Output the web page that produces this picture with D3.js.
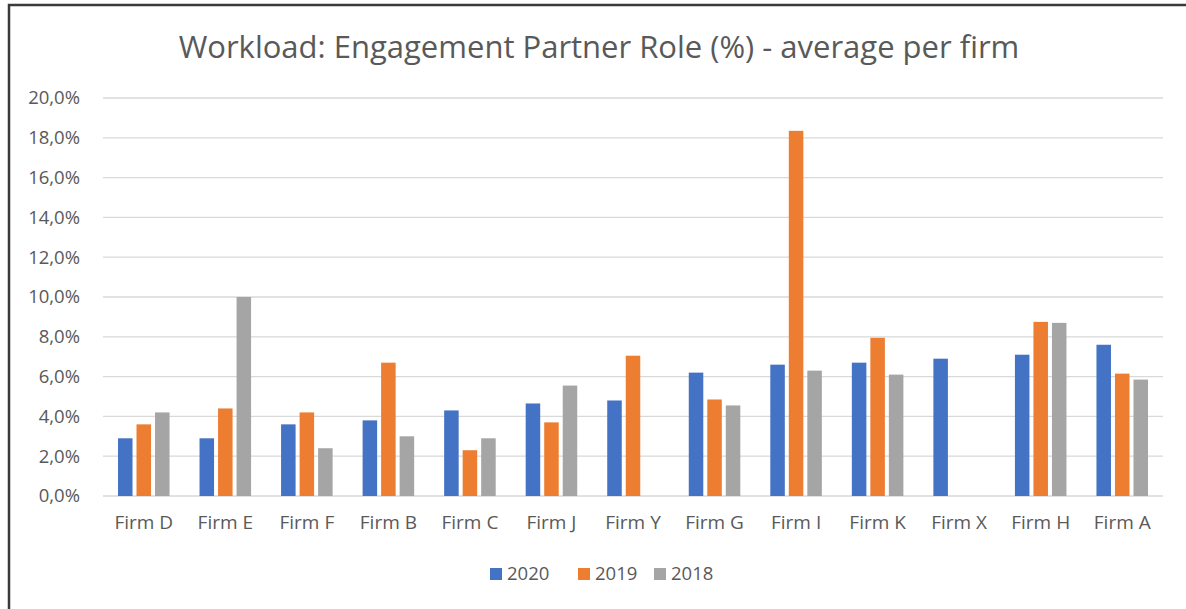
<!DOCTYPE html>
<html>
<head>
<meta charset="utf-8">
<script src="https://cdn.jsdelivr.net/npm/d3@7"></script>
<style>
  html, body { margin: 0; padding: 0; background: #fff; }
  svg { display: block; }
</style>
</head>
<body>
<div id="chart"></div>
<script>
// values in percent, null = no bar
const firms = ['Firm D', 'Firm E', 'Firm F', 'Firm B', 'Firm C', 'Firm J', 'Firm Y', 'Firm G', 'Firm I', 'Firm K', 'Firm X', 'Firm H', 'Firm A'];
const years = ['2020', '2019', '2018'];
const values2020 = [2.9, 2.9, 3.6, 3.8, 4.3, 4.65, 4.8, 6.2, 6.6, 6.7, 6.9, 7.1, 7.6];
const values2019 = [3.6, 4.4, 4.2, 6.7, 2.3, 3.7, 7.05, 4.85, 18.35, 7.95, null, 8.75, 6.15];
const values2018 = [4.2, 10.0, 2.4, 3.0, 2.9, 5.55, null, 4.55, 6.3, 6.1, null, 8.7, 5.85];
const yTickValues = [0, 2, 4, 6, 8, 10, 12, 14, 16, 18, 20];
const title = 'Workload: Engagement Partner Role (%) - average per firm';

const colors = { '2020': '#4472C4', '2019': '#ED7D31', '2018': '#A5A5A5' };
const seriesByYear = { '2020': values2020, '2019': values2019, '2018': values2018 };

const width = 1186, height = 609;
const margin = { top: 98, right: 23, bottom: 113, left: 103 };
const innerW = width - margin.left - margin.right;
const innerH = height - margin.top - margin.bottom;
const font = '"Open Sans", "Noto Sans", sans-serif';
const textColor = '#595959';

const svg = d3.select('#chart').append('svg')
    .attr('width', width)
    .attr('height', height);

// outer frame (runs off the right and bottom edge)
svg.append('rect')
    .attr('x', 9).attr('y', 5)
    .attr('width', 1300).attr('height', 800)
    .attr('fill', '#fff')
    .attr('stroke', '#3a3a3a')
    .attr('stroke-width', 2.5);

svg.append('text')
    .attr('x', 599)
    .attr('y', 58)
    .attr('text-anchor', 'middle')
    .attr('font-family', font)
    .attr('font-size', 31)
    .attr('fill', textColor)
    .text(title);

const g = svg.append('g')
    .attr('transform', `translate(${margin.left},${margin.top})`);

const x = d3.scaleBand()
    .domain(firms)
    .range([0, innerW])
    .paddingInner(0)
    .paddingOuter(0);

const xs = d3.scaleBand()
    .domain(years)
    .range([0, x.bandwidth()])
    .paddingInner(0.216)
    .paddingOuter(0.81);

const y = d3.scaleLinear()
    .domain([0, 20])
    .range([innerH, 0]);

// gridlines
g.append('g')
    .selectAll('line')
    .data(yTickValues)
    .join('line')
    .attr('x1', 0).attr('x2', innerW)
    .attr('y1', d => y(d)).attr('y2', d => y(d))
    .attr('stroke', '#d9d9d9')
    .attr('stroke-width', 1.3);

// y axis labels
const yAxis = g.append('g')
    .call(d3.axisLeft(y).tickValues(yTickValues).tickSize(0).tickPadding(23)
        .tickFormat(d => d.toFixed(1).replace('.', ',') + '%'));
yAxis.select('.domain').remove();
yAxis.selectAll('text')
    .attr('font-family', font)
    .attr('font-size', 18.5)
    .attr('fill', textColor);

// x axis labels
const xAxis = g.append('g')
    .attr('transform', `translate(0,${innerH})`)
    .call(d3.axisBottom(x).tickSize(0).tickPadding(20));
xAxis.select('.domain').remove();
xAxis.selectAll('text')
    .attr('font-family', font)
    .attr('font-size', 19)
    .attr('fill', textColor);

// bars
years.forEach(yr => {
    const vals = seriesByYear[yr];
    g.append('g')
        .selectAll('rect')
        .data(firms.map((f, i) => ({ firm: f, v: vals[i] })).filter(d => d.v != null))
        .join('rect')
        .attr('x', d => x(d.firm) + xs(yr))
        .attr('y', d => y(d.v))
        .attr('width', xs.bandwidth())
        .attr('height', d => innerH - y(d.v))
        .attr('fill', colors[yr]);
});

// legend
const legend = svg.append('g')
    .attr('transform', 'translate(490,574)');
const legendX = [0, 88, 164];
years.forEach((yr, i) => {
    const lg = legend.append('g').attr('transform', `translate(${legendX[i]},0)`);
    lg.append('rect')
        .attr('x', 0).attr('y', -6)
        .attr('width', 12).attr('height', 12)
        .attr('fill', colors[yr]);
    lg.append('text')
        .attr('x', 17)
        .attr('y', 0)
        .attr('dy', '0.35em')
        .attr('font-family', font)
        .attr('font-size', 18.5)
        .attr('fill', textColor)
        .text(yr);
});
</script>
</body>
</html>
